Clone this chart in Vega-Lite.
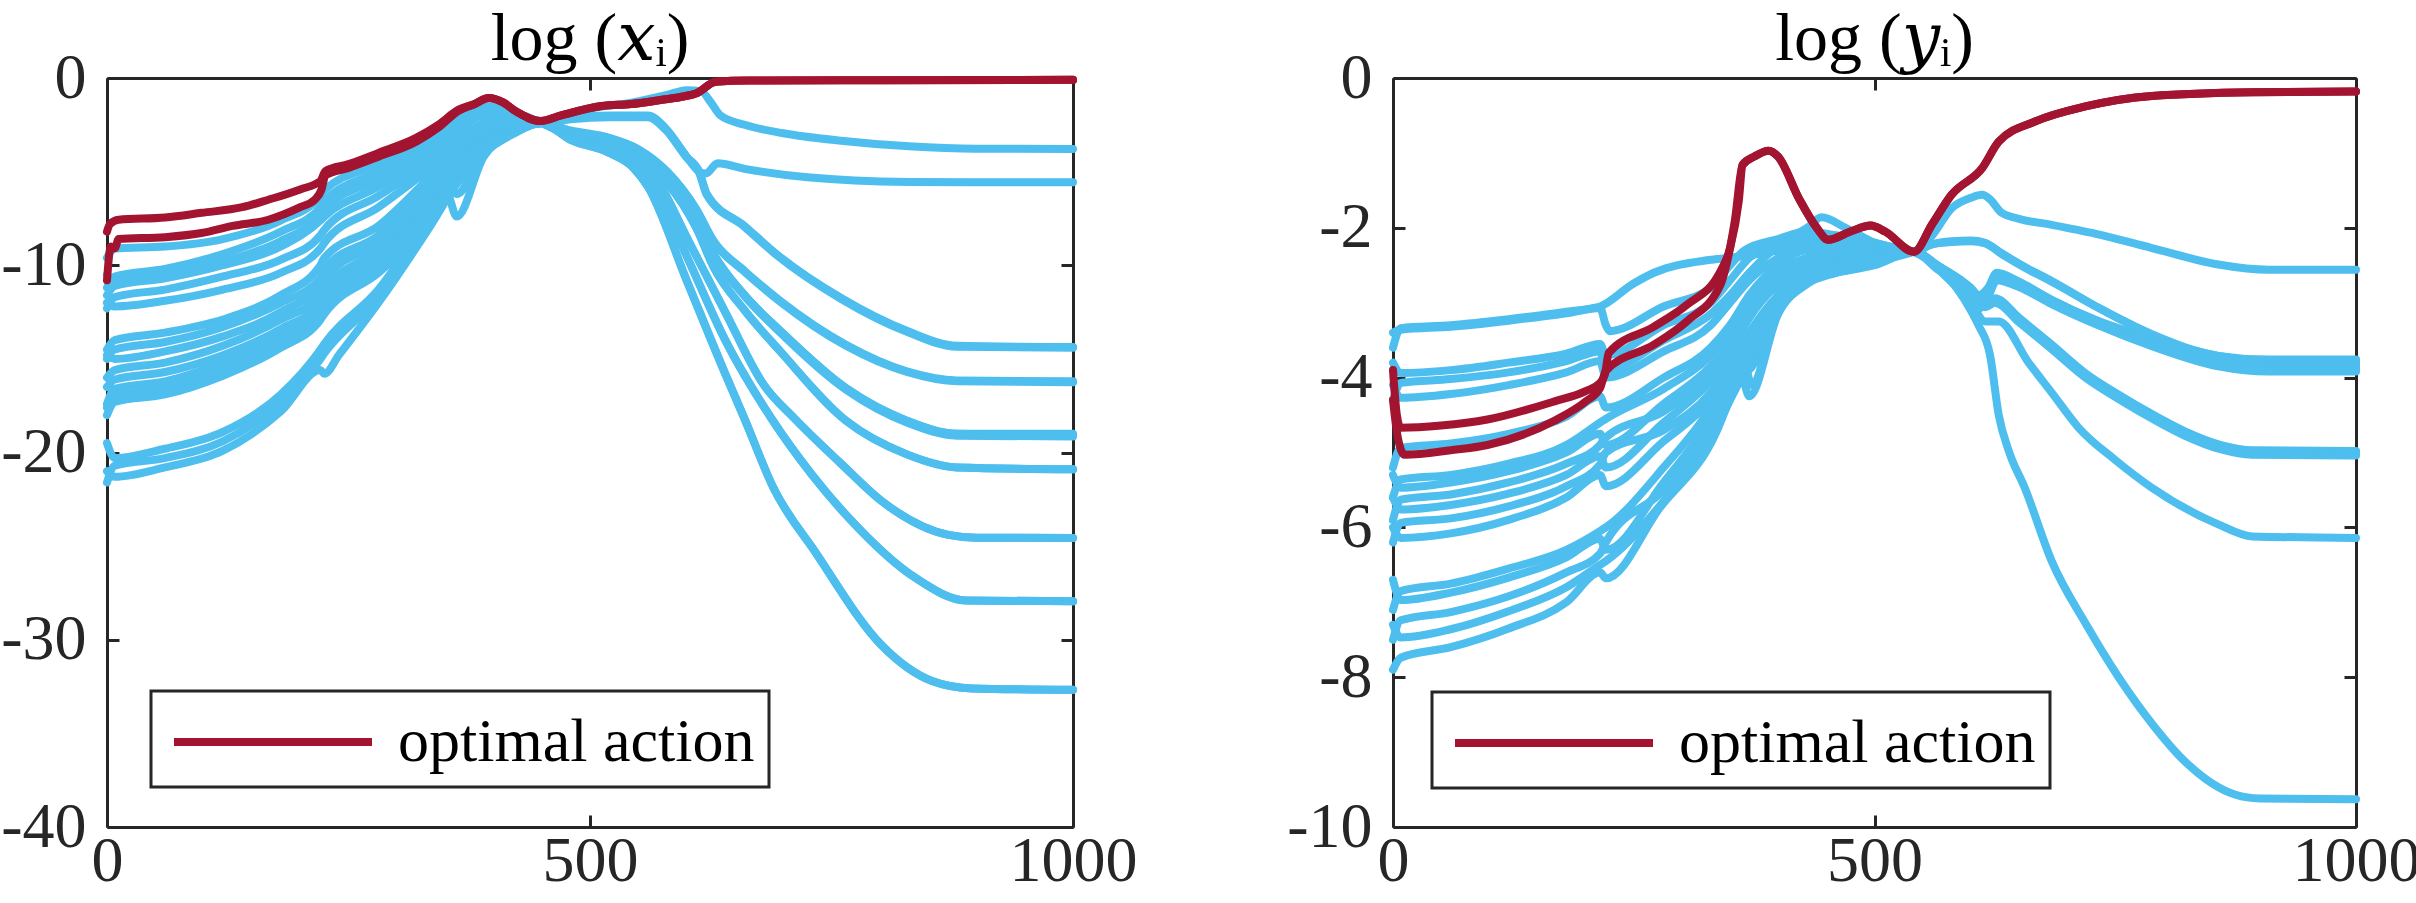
{
  "$schema": "https://vega.github.io/schema/vega-lite/v6.json",
  "background": "white",
  "padding": {"left": 0, "top": 6, "right": 0, "bottom": 0},
  "config": {
    "font": "Liberation Serif",
    "view": {"stroke": null},
    "axis": {
      "grid": false,
      "domainColor": "#262626",
      "domainWidth": 3,
      "tickColor": "#262626",
      "tickWidth": 3,
      "tickSize": -12,
      "labelFont": "Liberation Serif",
      "labelFontSize": 64,
      "labelColor": "#262626",
      "labelFlush": false,
      "labelOverlap": false,
      "labelBound": false
    },
    "legend": {"strokeWidth": 3},
    "line": {"strokeWidth": 8, "strokeCap": "round", "strokeJoin": "round", "interpolate": "monotone"}
  },
  "datasets": {
    "lb": [
      {"s":"l1","x":0,"y":-19.5},{"s":"l1","x":8,"y":-20.3},{"s":"l1","x":60,"y":-19.8},{"s":"l1","x":120,"y":-18.9},{"s":"l1","x":180,"y":-16.9},{"s":"l1","x":221,"y":-14.5},{"s":"l1","x":225,"y":-14.2},{"s":"l1","x":281,"y":-11.3},{"s":"l1","x":336,"y":-7.2},{"s":"l1","x":370,"y":-4.6},{"s":"l1","x":405,"y":-3.0},{"s":"l1","x":430,"y":-2.5},{"s":"l1","x":450,"y":-2.4},{"s":"l1","x":480,"y":-2.0},{"s":"l1","x":500,"y":-1.65},{"s":"l1","x":540,"y":-1.35},{"s":"l1","x":580,"y":-0.9},{"s":"l1","x":600,"y":-0.65},{"s":"l1","x":615,"y":-0.7},{"s":"l1","x":625,"y":-1.3},{"s":"l1","x":635,"y":-2.0},{"s":"l1","x":660,"y":-2.5},{"s":"l1","x":700,"y":-2.95},{"s":"l1","x":760,"y":-3.35},{"s":"l1","x":830,"y":-3.65},{"s":"l1","x":900,"y":-3.78},{"s":"l1","x":1000,"y":-3.79},
      {"s":"l2","x":0,"y":-21.6},{"s":"l2","x":8,"y":-20.7},{"s":"l2","x":60,"y":-20.3},{"s":"l2","x":120,"y":-19.4},{"s":"l2","x":180,"y":-17.3},{"s":"l2","x":221,"y":-15.0},{"s":"l2","x":225,"y":-14.7},{"s":"l2","x":281,"y":-11.7},{"s":"l2","x":336,"y":-7.5},{"s":"l2","x":370,"y":-4.8},{"s":"l2","x":405,"y":-3.0},{"s":"l2","x":430,"y":-2.5},{"s":"l2","x":450,"y":-2.4},{"s":"l2","x":480,"y":-2.1},{"s":"l2","x":520,"y":-2.0},{"s":"l2","x":560,"y":-2.0},{"s":"l2","x":578,"y":-2.67},{"s":"l2","x":600,"y":-4.2},{"s":"l2","x":613,"y":-5.0},{"s":"l2","x":620,"y":-5.1},{"s":"l2","x":632,"y":-4.55},{"s":"l2","x":660,"y":-4.85},{"s":"l2","x":725,"y":-5.3},{"s":"l2","x":830,"y":-5.55},{"s":"l2","x":900,"y":-5.57},{"s":"l2","x":1000,"y":-5.57},
      {"s":"l3","x":0,"y":-21.0},{"s":"l3","x":8,"y":-21.3},{"s":"l3","x":60,"y":-20.8},{"s":"l3","x":120,"y":-19.9},{"s":"l3","x":180,"y":-17.8},{"s":"l3","x":221,"y":-15.6},{"s":"l3","x":225,"y":-15.8},{"s":"l3","x":240,"y":-14.8},{"s":"l3","x":281,"y":-12.0},{"s":"l3","x":336,"y":-7.8},{"s":"l3","x":370,"y":-5.0},{"s":"l3","x":405,"y":-3.1},{"s":"l3","x":430,"y":-2.5},{"s":"l3","x":450,"y":-2.4},{"s":"l3","x":480,"y":-2.15},{"s":"l3","x":520,"y":-2.05},{"s":"l3","x":560,"y":-2.05},{"s":"l3","x":578,"y":-2.7},{"s":"l3","x":600,"y":-4.2},{"s":"l3","x":613,"y":-5.0},{"s":"l3","x":621,"y":-6.2},{"s":"l3","x":660,"y":-7.9},{"s":"l3","x":693,"y":-9.4},{"s":"l3","x":760,"y":-11.75},{"s":"l3","x":828,"y":-13.5},{"s":"l3","x":880,"y":-14.3},{"s":"l3","x":1000,"y":-14.37},
      {"s":"l4","x":0,"y":-14.5},{"s":"l4","x":8,"y":-14.0},{"s":"l4","x":60,"y":-13.6},{"s":"l4","x":120,"y":-12.9},{"s":"l4","x":180,"y":-11.6},{"s":"l4","x":221,"y":-10.0},{"s":"l4","x":225,"y":-9.6},{"s":"l4","x":281,"y":-7.9},{"s":"l4","x":336,"y":-5.2},{"s":"l4","x":352,"y":-4.4},{"s":"l4","x":362,"y":-5.0},{"s":"l4","x":390,"y":-3.4},{"s":"l4","x":420,"y":-2.6},{"s":"l4","x":450,"y":-2.4},{"s":"l4","x":480,"y":-2.2},{"s":"l4","x":520,"y":-2.1},{"s":"l4","x":560,"y":-2.1},{"s":"l4","x":578,"y":-2.75},{"s":"l4","x":600,"y":-4.25},{"s":"l4","x":613,"y":-5.05},{"s":"l4","x":621,"y":-6.25},{"s":"l4","x":660,"y":-7.95},{"s":"l4","x":693,"y":-9.45},{"s":"l4","x":760,"y":-11.8},{"s":"l4","x":828,"y":-13.55},{"s":"l4","x":880,"y":-14.35},{"s":"l4","x":1000,"y":-14.4},
      {"s":"l5","x":0,"y":-15.0},{"s":"l5","x":8,"y":-14.5},{"s":"l5","x":60,"y":-14.1},{"s":"l5","x":120,"y":-13.3},{"s":"l5","x":180,"y":-12.0},{"s":"l5","x":221,"y":-10.7},{"s":"l5","x":225,"y":-10.2},{"s":"l5","x":281,"y":-8.4},{"s":"l5","x":336,"y":-5.6},{"s":"l5","x":360,"y":-4.3},{"s":"l5","x":390,"y":-3.2},{"s":"l5","x":420,"y":-2.6},{"s":"l5","x":450,"y":-2.4},{"s":"l5","x":480,"y":-2.8},{"s":"l5","x":520,"y":-3.2},{"s":"l5","x":550,"y":-3.8},{"s":"l5","x":580,"y":-5.0},{"s":"l5","x":610,"y":-7.0},{"s":"l5","x":628,"y":-8.7},{"s":"l5","x":660,"y":-10.3},{"s":"l5","x":697,"y":-11.9},{"s":"l5","x":765,"y":-14.24},{"s":"l5","x":828,"y":-15.66},{"s":"l5","x":880,"y":-16.15},{"s":"l5","x":1000,"y":-16.2},
      {"s":"l6","x":0,"y":-14.8},{"s":"l6","x":8,"y":-15.0},{"s":"l6","x":60,"y":-14.6},{"s":"l6","x":120,"y":-13.8},{"s":"l6","x":180,"y":-12.5},{"s":"l6","x":221,"y":-11.0},{"s":"l6","x":225,"y":-10.7},{"s":"l6","x":281,"y":-8.8},{"s":"l6","x":336,"y":-6.0},{"s":"l6","x":360,"y":-4.6},{"s":"l6","x":390,"y":-3.4},{"s":"l6","x":420,"y":-2.7},{"s":"l6","x":450,"y":-2.4},{"s":"l6","x":480,"y":-2.85},{"s":"l6","x":520,"y":-3.25},{"s":"l6","x":550,"y":-3.85},{"s":"l6","x":580,"y":-5.05},{"s":"l6","x":610,"y":-7.05},{"s":"l6","x":628,"y":-8.75},{"s":"l6","x":660,"y":-10.35},{"s":"l6","x":697,"y":-11.95},{"s":"l6","x":765,"y":-14.3},{"s":"l6","x":828,"y":-15.7},{"s":"l6","x":880,"y":-16.2},{"s":"l6","x":1000,"y":-16.25},
      {"s":"l7","x":0,"y":-16.0},{"s":"l7","x":8,"y":-15.6},{"s":"l7","x":60,"y":-15.2},{"s":"l7","x":120,"y":-14.3},{"s":"l7","x":180,"y":-12.9},{"s":"l7","x":221,"y":-11.6},{"s":"l7","x":225,"y":-11.3},{"s":"l7","x":281,"y":-9.2},{"s":"l7","x":336,"y":-6.4},{"s":"l7","x":352,"y":-5.4},{"s":"l7","x":362,"y":-6.2},{"s":"l7","x":390,"y":-3.9},{"s":"l7","x":420,"y":-2.8},{"s":"l7","x":450,"y":-2.4},{"s":"l7","x":480,"y":-2.9},{"s":"l7","x":520,"y":-3.3},{"s":"l7","x":550,"y":-4.0},{"s":"l7","x":580,"y":-5.3},{"s":"l7","x":610,"y":-7.5},{"s":"l7","x":628,"y":-9.4},{"s":"l7","x":660,"y":-11.6},{"s":"l7","x":697,"y":-13.5},{"s":"l7","x":765,"y":-16.56},{"s":"l7","x":828,"y":-18.3},{"s":"l7","x":880,"y":-19.0},{"s":"l7","x":1000,"y":-19.0},
      {"s":"l8","x":0,"y":-16.5},{"s":"l8","x":8,"y":-16.1},{"s":"l8","x":60,"y":-15.7},{"s":"l8","x":120,"y":-14.8},{"s":"l8","x":180,"y":-13.4},{"s":"l8","x":221,"y":-12.0},{"s":"l8","x":225,"y":-11.7},{"s":"l8","x":281,"y":-9.5},{"s":"l8","x":336,"y":-6.8},{"s":"l8","x":360,"y":-5.0},{"s":"l8","x":390,"y":-3.6},{"s":"l8","x":420,"y":-2.8},{"s":"l8","x":450,"y":-2.4},{"s":"l8","x":480,"y":-2.95},{"s":"l8","x":520,"y":-3.35},{"s":"l8","x":550,"y":-4.05},{"s":"l8","x":580,"y":-5.35},{"s":"l8","x":610,"y":-7.55},{"s":"l8","x":628,"y":-9.45},{"s":"l8","x":660,"y":-11.65},{"s":"l8","x":697,"y":-13.6},{"s":"l8","x":765,"y":-16.65},{"s":"l8","x":828,"y":-18.4},{"s":"l8","x":880,"y":-19.1},{"s":"l8","x":1000,"y":-19.15},
      {"s":"l9","x":0,"y":-17.4},{"s":"l9","x":8,"y":-16.6},{"s":"l9","x":60,"y":-16.2},{"s":"l9","x":120,"y":-15.2},{"s":"l9","x":180,"y":-13.8},{"s":"l9","x":221,"y":-12.5},{"s":"l9","x":225,"y":-12.0},{"s":"l9","x":281,"y":-9.8},{"s":"l9","x":336,"y":-7.0},{"s":"l9","x":352,"y":-6.2},{"s":"l9","x":362,"y":-7.4},{"s":"l9","x":390,"y":-4.2},{"s":"l9","x":420,"y":-2.9},{"s":"l9","x":450,"y":-2.4},{"s":"l9","x":480,"y":-2.9},{"s":"l9","x":520,"y":-3.3},{"s":"l9","x":550,"y":-4.0},{"s":"l9","x":580,"y":-5.3},{"s":"l9","x":610,"y":-7.5},{"s":"l9","x":628,"y":-9.4},{"s":"l9","x":660,"y":-11.6},{"s":"l9","x":697,"y":-13.5},{"s":"l9","x":765,"y":-16.56},{"s":"l9","x":828,"y":-18.3},{"s":"l9","x":880,"y":-19.0},{"s":"l9","x":1000,"y":-19.07},
      {"s":"l10","x":0,"y":-17.6},{"s":"l10","x":8,"y":-17.0},{"s":"l10","x":60,"y":-16.6},{"s":"l10","x":120,"y":-15.6},{"s":"l10","x":180,"y":-14.1},{"s":"l10","x":221,"y":-12.7},{"s":"l10","x":225,"y":-12.3},{"s":"l10","x":281,"y":-10.1},{"s":"l10","x":336,"y":-7.3},{"s":"l10","x":360,"y":-5.6},{"s":"l10","x":390,"y":-3.8},{"s":"l10","x":420,"y":-2.9},{"s":"l10","x":450,"y":-2.4},{"s":"l10","x":480,"y":-3.0},{"s":"l10","x":520,"y":-3.5},{"s":"l10","x":550,"y":-4.2},{"s":"l10","x":580,"y":-5.6},{"s":"l10","x":610,"y":-8.0},{"s":"l10","x":628,"y":-10.1},{"s":"l10","x":660,"y":-12.4},{"s":"l10","x":697,"y":-14.6},{"s":"l10","x":765,"y":-18.3},{"s":"l10","x":828,"y":-20.1},{"s":"l10","x":880,"y":-20.8},{"s":"l10","x":1000,"y":-20.9},
      {"s":"l11","x":0,"y":-18.0},{"s":"l11","x":8,"y":-17.3},{"s":"l11","x":60,"y":-16.9},{"s":"l11","x":120,"y":-15.9},{"s":"l11","x":180,"y":-14.4},{"s":"l11","x":221,"y":-12.9},{"s":"l11","x":225,"y":-12.6},{"s":"l11","x":281,"y":-10.4},{"s":"l11","x":336,"y":-7.6},{"s":"l11","x":360,"y":-5.8},{"s":"l11","x":390,"y":-4.0},{"s":"l11","x":420,"y":-3.0},{"s":"l11","x":450,"y":-2.4},{"s":"l11","x":480,"y":-3.0},{"s":"l11","x":520,"y":-3.5},{"s":"l11","x":550,"y":-4.2},{"s":"l11","x":580,"y":-5.6},{"s":"l11","x":610,"y":-8.0},{"s":"l11","x":628,"y":-10.1},{"s":"l11","x":660,"y":-12.4},{"s":"l11","x":697,"y":-14.6},{"s":"l11","x":765,"y":-18.3},{"s":"l11","x":828,"y":-20.1},{"s":"l11","x":880,"y":-20.8},{"s":"l11","x":1000,"y":-20.9},
      {"s":"l12","x":0,"y":-9.6},{"s":"l12","x":8,"y":-9.1},{"s":"l12","x":60,"y":-9.0},{"s":"l12","x":120,"y":-8.6},{"s":"l12","x":180,"y":-7.6},{"s":"l12","x":221,"y":-6.3},{"s":"l12","x":225,"y":-6.0},{"s":"l12","x":281,"y":-4.6},{"s":"l12","x":336,"y":-3.1},{"s":"l12","x":360,"y":-2.3},{"s":"l12","x":390,"y":-1.5},{"s":"l12","x":420,"y":-1.8},{"s":"l12","x":450,"y":-2.4},{"s":"l12","x":480,"y":-3.1},{"s":"l12","x":520,"y":-3.6},{"s":"l12","x":550,"y":-4.4},{"s":"l12","x":570,"y":-5.5},{"s":"l12","x":600,"y":-8.5},{"s":"l12","x":640,"y":-12.5},{"s":"l12","x":680,"y":-16.4},{"s":"l12","x":712,"y":-18.2},{"s":"l12","x":760,"y":-20.6},{"s":"l12","x":802,"y":-22.6},{"s":"l12","x":871,"y":-24.4},{"s":"l12","x":900,"y":-24.55},{"s":"l12","x":1000,"y":-24.57},
      {"s":"l13","x":0,"y":-11.2},{"s":"l13","x":8,"y":-10.6},{"s":"l13","x":60,"y":-10.2},{"s":"l13","x":120,"y":-9.4},{"s":"l13","x":180,"y":-8.2},{"s":"l13","x":221,"y":-6.9},{"s":"l13","x":225,"y":-6.6},{"s":"l13","x":281,"y":-5.0},{"s":"l13","x":336,"y":-3.4},{"s":"l13","x":360,"y":-2.6},{"s":"l13","x":390,"y":-1.7},{"s":"l13","x":420,"y":-2.0},{"s":"l13","x":450,"y":-2.4},{"s":"l13","x":480,"y":-3.1},{"s":"l13","x":520,"y":-3.6},{"s":"l13","x":550,"y":-4.4},{"s":"l13","x":570,"y":-5.5},{"s":"l13","x":600,"y":-8.5},{"s":"l13","x":640,"y":-12.5},{"s":"l13","x":680,"y":-16.4},{"s":"l13","x":712,"y":-18.2},{"s":"l13","x":760,"y":-20.6},{"s":"l13","x":802,"y":-22.6},{"s":"l13","x":871,"y":-24.4},{"s":"l13","x":900,"y":-24.55},{"s":"l13","x":1000,"y":-24.57},
      {"s":"l14","x":0,"y":-10.5},{"s":"l14","x":8,"y":-10.9},{"s":"l14","x":60,"y":-10.5},{"s":"l14","x":120,"y":-9.8},{"s":"l14","x":180,"y":-8.7},{"s":"l14","x":221,"y":-7.3},{"s":"l14","x":225,"y":-7.0},{"s":"l14","x":281,"y":-5.4},{"s":"l14","x":336,"y":-3.7},{"s":"l14","x":360,"y":-2.9},{"s":"l14","x":390,"y":-2.0},{"s":"l14","x":420,"y":-2.1},{"s":"l14","x":450,"y":-2.4},{"s":"l14","x":480,"y":-3.2},{"s":"l14","x":520,"y":-3.8},{"s":"l14","x":550,"y":-4.6},{"s":"l14","x":565,"y":-5.6},{"s":"l14","x":600,"y":-9.5},{"s":"l14","x":640,"y":-14.0},{"s":"l14","x":688,"y":-18.2},{"s":"l14","x":730,"y":-21.2},{"s":"l14","x":768,"y":-23.5},{"s":"l14","x":837,"y":-26.7},{"s":"l14","x":889,"y":-27.9},{"s":"l14","x":1000,"y":-27.95},
      {"s":"l15","x":0,"y":-11.6},{"s":"l15","x":8,"y":-11.1},{"s":"l15","x":60,"y":-10.7},{"s":"l15","x":120,"y":-10.0},{"s":"l15","x":180,"y":-9.0},{"s":"l15","x":221,"y":-7.6},{"s":"l15","x":225,"y":-7.4},{"s":"l15","x":281,"y":-5.8},{"s":"l15","x":336,"y":-4.0},{"s":"l15","x":352,"y":-3.4},{"s":"l15","x":360,"y":-3.3},{"s":"l15","x":390,"y":-2.4},{"s":"l15","x":420,"y":-2.2},{"s":"l15","x":450,"y":-2.4},{"s":"l15","x":480,"y":-3.2},{"s":"l15","x":520,"y":-3.8},{"s":"l15","x":550,"y":-4.6},{"s":"l15","x":565,"y":-5.6},{"s":"l15","x":600,"y":-9.5},{"s":"l15","x":640,"y":-14.0},{"s":"l15","x":688,"y":-18.2},{"s":"l15","x":730,"y":-21.2},{"s":"l15","x":768,"y":-23.5},{"s":"l15","x":837,"y":-26.7},{"s":"l15","x":889,"y":-27.9},{"s":"l15","x":1000,"y":-27.95},
      {"s":"l16","x":0,"y":-12.3},{"s":"l16","x":8,"y":-11.7},{"s":"l16","x":60,"y":-11.3},{"s":"l16","x":120,"y":-10.6},{"s":"l16","x":180,"y":-9.7},{"s":"l16","x":221,"y":-8.4},{"s":"l16","x":225,"y":-8.1},{"s":"l16","x":281,"y":-6.3},{"s":"l16","x":336,"y":-4.4},{"s":"l16","x":360,"y":-3.5},{"s":"l16","x":390,"y":-2.6},{"s":"l16","x":420,"y":-2.3},{"s":"l16","x":450,"y":-2.4},{"s":"l16","x":480,"y":-3.3},{"s":"l16","x":520,"y":-4.0},{"s":"l16","x":545,"y":-4.8},{"s":"l16","x":560,"y":-5.8},{"s":"l16","x":600,"y":-10.8},{"s":"l16","x":640,"y":-15.8},{"s":"l16","x":660,"y":-18.2},{"s":"l16","x":690,"y":-21.9},{"s":"l16","x":733,"y":-25.3},{"s":"l16","x":802,"y":-30.3},{"s":"l16","x":854,"y":-32.2},{"s":"l16","x":896,"y":-32.6},{"s":"l16","x":1000,"y":-32.67},
      {"s":"l17","x":0,"y":-12.0},{"s":"l17","x":8,"y":-12.2},{"s":"l17","x":60,"y":-11.9},{"s":"l17","x":120,"y":-11.3},{"s":"l17","x":180,"y":-10.4},{"s":"l17","x":221,"y":-9.1},{"s":"l17","x":225,"y":-8.8},{"s":"l17","x":281,"y":-6.9},{"s":"l17","x":336,"y":-4.8},{"s":"l17","x":360,"y":-3.9},{"s":"l17","x":390,"y":-2.8},{"s":"l17","x":420,"y":-2.4},{"s":"l17","x":450,"y":-2.4},{"s":"l17","x":480,"y":-3.3},{"s":"l17","x":520,"y":-4.0},{"s":"l17","x":545,"y":-4.8},{"s":"l17","x":560,"y":-5.8},{"s":"l17","x":600,"y":-10.8},{"s":"l17","x":640,"y":-15.8},{"s":"l17","x":660,"y":-18.2},{"s":"l17","x":690,"y":-21.9},{"s":"l17","x":733,"y":-25.3},{"s":"l17","x":802,"y":-30.3},{"s":"l17","x":854,"y":-32.2},{"s":"l17","x":896,"y":-32.6},{"s":"l17","x":1000,"y":-32.67}
    ],
    "lr": [
      {"s":"r1","k":"optimal action","x":0,"y":-8.2},{"s":"r1","k":"optimal action","x":3,"y":-7.8},{"s":"r1","k":"optimal action","x":12,"y":-7.57},{"s":"r1","k":"optimal action","x":60,"y":-7.45},{"s":"r1","k":"optimal action","x":98,"y":-7.2},{"s":"r1","k":"optimal action","x":140,"y":-6.9},{"s":"r1","k":"optimal action","x":167,"y":-6.5},{"s":"r1","k":"optimal action","x":200,"y":-5.95},{"s":"r1","k":"optimal action","x":221,"y":-5.5},{"s":"r1","k":"optimal action","x":226,"y":-4.97},{"s":"r1","k":"optimal action","x":250,"y":-4.6},{"s":"r1","k":"optimal action","x":281,"y":-4.0},{"s":"r1","k":"optimal action","x":320,"y":-3.2},{"s":"r1","k":"optimal action","x":343,"y":-2.5},{"s":"r1","k":"optimal action","x":364,"y":-1.69},{"s":"r1","k":"optimal action","x":380,"y":-1.4},{"s":"r1","k":"optimal action","x":395,"y":-1.07},{"s":"r1","k":"optimal action","x":410,"y":-1.3},{"s":"r1","k":"optimal action","x":423,"y":-1.77},{"s":"r1","k":"optimal action","x":449,"y":-2.3},{"s":"r1","k":"optimal action","x":470,"y":-2.0},{"s":"r1","k":"optimal action","x":512,"y":-1.5},{"s":"r1","k":"optimal action","x":543,"y":-1.39},{"s":"r1","k":"optimal action","x":570,"y":-1.2},{"s":"r1","k":"optimal action","x":595,"y":-1.0},{"s":"r1","k":"optimal action","x":611,"y":-0.8},{"s":"r1","k":"optimal action","x":630,"y":-0.2},{"s":"r1","k":"optimal action","x":664,"y":-0.14},{"s":"r1","k":"optimal action","x":800,"y":-0.12},{"s":"r1","k":"optimal action","x":1000,"y":-0.1},
      {"s":"r2","k":"optimal action","x":0,"y":-10.8},{"s":"r2","k":"optimal action","x":4,"y":-9.0},{"s":"r2","k":"optimal action","x":8,"y":-9.1},{"s":"r2","k":"optimal action","x":12,"y":-8.6},{"s":"r2","k":"optimal action","x":60,"y":-8.5},{"s":"r2","k":"optimal action","x":98,"y":-8.28},{"s":"r2","k":"optimal action","x":130,"y":-7.9},{"s":"r2","k":"optimal action","x":167,"y":-7.57},{"s":"r2","k":"optimal action","x":200,"y":-6.9},{"s":"r2","k":"optimal action","x":215,"y":-6.5},{"s":"r2","k":"optimal action","x":222,"y":-5.96},{"s":"r2","k":"optimal action","x":226,"y":-5.2},{"s":"r2","k":"optimal action","x":250,"y":-4.8},{"s":"r2","k":"optimal action","x":281,"y":-4.2},{"s":"r2","k":"optimal action","x":320,"y":-3.4},{"s":"r2","k":"optimal action","x":343,"y":-2.65},{"s":"r2","k":"optimal action","x":364,"y":-1.75},{"s":"r2","k":"optimal action","x":380,"y":-1.4},{"s":"r2","k":"optimal action","x":395,"y":-1.07},{"s":"r2","k":"optimal action","x":410,"y":-1.3},{"s":"r2","k":"optimal action","x":423,"y":-1.77},{"s":"r2","k":"optimal action","x":449,"y":-2.3},{"s":"r2","k":"optimal action","x":470,"y":-2.0},{"s":"r2","k":"optimal action","x":512,"y":-1.5},{"s":"r2","k":"optimal action","x":543,"y":-1.39},{"s":"r2","k":"optimal action","x":570,"y":-1.2},{"s":"r2","k":"optimal action","x":595,"y":-1.0},{"s":"r2","k":"optimal action","x":611,"y":-0.8},{"s":"r2","k":"optimal action","x":630,"y":-0.2},{"s":"r2","k":"optimal action","x":664,"y":-0.14},{"s":"r2","k":"optimal action","x":800,"y":-0.12},{"s":"r2","k":"optimal action","x":1000,"y":-0.1}
    ],
    "rb": [
      {"s":"b1","x":0,"y":-3.6},{"s":"b1","x":8,"y":-3.34},{"s":"b1","x":60,"y":-3.3},{"s":"b1","x":120,"y":-3.22},{"s":"b1","x":180,"y":-3.12},{"s":"b1","x":215,"y":-3.05},{"s":"b1","x":249,"y":-2.75},{"s":"b1","x":271,"y":-2.6},{"s":"b1","x":328,"y":-2.43},{"s":"b1","x":350,"y":-2.4},{"s":"b1","x":400,"y":-2.3},{"s":"b1","x":430,"y":-2.2},{"s":"b1","x":460,"y":-2.15},{"s":"b1","x":500,"y":-2.25},{"s":"b1","x":541,"y":-2.32},{"s":"b1","x":560,"y":-2.1},{"s":"b1","x":580,"y":-1.74},{"s":"b1","x":600,"y":-1.6},{"s":"b1","x":612,"y":-1.56},{"s":"b1","x":620,"y":-1.62},{"s":"b1","x":632,"y":-1.8},{"s":"b1","x":650,"y":-1.88},{"s":"b1","x":684,"y":-1.96},{"s":"b1","x":730,"y":-2.08},{"s":"b1","x":788,"y":-2.27},{"s":"b1","x":857,"y":-2.49},{"s":"b1","x":909,"y":-2.56},{"s":"b1","x":1000,"y":-2.56},
      {"s":"b2","x":0,"y":-3.4},{"s":"b2","x":8,"y":-3.36},{"s":"b2","x":60,"y":-3.32},{"s":"b2","x":120,"y":-3.24},{"s":"b2","x":180,"y":-3.14},{"s":"b2","x":215,"y":-3.07},{"s":"b2","x":221,"y":-3.3},{"s":"b2","x":225,"y":-3.38},{"s":"b2","x":281,"y":-3.05},{"s":"b2","x":330,"y":-2.8},{"s":"b2","x":350,"y":-2.5},{"s":"b2","x":365,"y":-2.3},{"s":"b2","x":400,"y":-2.15},{"s":"b2","x":430,"y":-2.05},{"s":"b2","x":460,"y":-2.1},{"s":"b2","x":500,"y":-2.2},{"s":"b2","x":541,"y":-2.32},{"s":"b2","x":560,"y":-2.22},{"s":"b2","x":580,"y":-2.18},{"s":"b2","x":600,"y":-2.17},{"s":"b2","x":615,"y":-2.2},{"s":"b2","x":632,"y":-2.34},{"s":"b2","x":660,"y":-2.55},{"s":"b2","x":684,"y":-2.71},{"s":"b2","x":730,"y":-3.05},{"s":"b2","x":788,"y":-3.43},{"s":"b2","x":857,"y":-3.74},{"s":"b2","x":909,"y":-3.8},{"s":"b2","x":1000,"y":-3.8},
      {"s":"b3","x":0,"y":-3.8},{"s":"b3","x":8,"y":-3.94},{"s":"b3","x":60,"y":-3.9},{"s":"b3","x":120,"y":-3.8},{"s":"b3","x":180,"y":-3.68},{"s":"b3","x":215,"y":-3.55},{"s":"b3","x":221,"y":-3.7},{"s":"b3","x":281,"y":-3.3},{"s":"b3","x":330,"y":-3.0},{"s":"b3","x":350,"y":-2.7},{"s":"b3","x":370,"y":-2.4},{"s":"b3","x":400,"y":-2.2},{"s":"b3","x":430,"y":-2.0},{"s":"b3","x":445,"y":-1.86},{"s":"b3","x":470,"y":-2.0},{"s":"b3","x":500,"y":-2.2},{"s":"b3","x":541,"y":-2.32},{"s":"b3","x":565,"y":-2.5},{"s":"b3","x":590,"y":-2.7},{"s":"b3","x":608,"y":-2.9},{"s":"b3","x":618,"y":-2.8},{"s":"b3","x":627,"y":-2.6},{"s":"b3","x":650,"y":-2.72},{"s":"b3","x":684,"y":-2.96},{"s":"b3","x":730,"y":-3.23},{"s":"b3","x":788,"y":-3.48},{"s":"b3","x":857,"y":-3.71},{"s":"b3","x":909,"y":-3.78},{"s":"b3","x":1000,"y":-3.78},
      {"s":"b4","x":0,"y":-4.3},{"s":"b4","x":8,"y":-4.07},{"s":"b4","x":60,"y":-4.02},{"s":"b4","x":120,"y":-3.93},{"s":"b4","x":180,"y":-3.78},{"s":"b4","x":215,"y":-3.65},{"s":"b4","x":221,"y":-3.9},{"s":"b4","x":281,"y":-3.5},{"s":"b4","x":330,"y":-3.15},{"s":"b4","x":350,"y":-2.9},{"s":"b4","x":370,"y":-2.6},{"s":"b4","x":400,"y":-2.25},{"s":"b4","x":430,"y":-2.1},{"s":"b4","x":460,"y":-2.15},{"s":"b4","x":500,"y":-2.25},{"s":"b4","x":541,"y":-2.32},{"s":"b4","x":565,"y":-2.5},{"s":"b4","x":590,"y":-2.72},{"s":"b4","x":608,"y":-2.95},{"s":"b4","x":618,"y":-2.85},{"s":"b4","x":627,"y":-2.63},{"s":"b4","x":650,"y":-2.75},{"s":"b4","x":684,"y":-2.98},{"s":"b4","x":730,"y":-3.25},{"s":"b4","x":788,"y":-3.51},{"s":"b4","x":857,"y":-3.75},{"s":"b4","x":909,"y":-3.82},{"s":"b4","x":1000,"y":-3.82},
      {"s":"b5","x":0,"y":-4.1},{"s":"b5","x":8,"y":-4.27},{"s":"b5","x":60,"y":-4.22},{"s":"b5","x":120,"y":-4.1},{"s":"b5","x":180,"y":-3.93},{"s":"b5","x":215,"y":-3.78},{"s":"b5","x":221,"y":-4.0},{"s":"b5","x":281,"y":-3.65},{"s":"b5","x":330,"y":-3.3},{"s":"b5","x":350,"y":-3.0},{"s":"b5","x":370,"y":-2.7},{"s":"b5","x":400,"y":-2.4},{"s":"b5","x":430,"y":-2.2},{"s":"b5","x":460,"y":-2.25},{"s":"b5","x":500,"y":-2.3},{"s":"b5","x":541,"y":-2.32},{"s":"b5","x":570,"y":-2.55},{"s":"b5","x":600,"y":-2.8},{"s":"b5","x":615,"y":-3.0},{"s":"b5","x":625,"y":-2.94},{"s":"b5","x":650,"y":-3.2},{"s":"b5","x":684,"y":-3.56},{"s":"b5","x":720,"y":-3.95},{"s":"b5","x":754,"y":-4.23},{"s":"b5","x":790,"y":-4.5},{"s":"b5","x":823,"y":-4.72},{"s":"b5","x":860,"y":-4.9},{"s":"b5","x":892,"y":-4.97},{"s":"b5","x":1000,"y":-4.98},
      {"s":"b6","x":0,"y":-5.2},{"s":"b6","x":8,"y":-4.94},{"s":"b6","x":60,"y":-4.88},{"s":"b6","x":120,"y":-4.75},{"s":"b6","x":180,"y":-4.52},{"s":"b6","x":215,"y":-4.25},{"s":"b6","x":221,"y":-4.4},{"s":"b6","x":281,"y":-4.0},{"s":"b6","x":330,"y":-3.6},{"s":"b6","x":350,"y":-3.3},{"s":"b6","x":370,"y":-2.9},{"s":"b6","x":400,"y":-2.5},{"s":"b6","x":430,"y":-2.3},{"s":"b6","x":460,"y":-2.3},{"s":"b6","x":500,"y":-2.32},{"s":"b6","x":541,"y":-2.32},{"s":"b6","x":565,"y":-2.52},{"s":"b6","x":590,"y":-2.74},{"s":"b6","x":608,"y":-3.0},{"s":"b6","x":618,"y":-2.88},{"s":"b6","x":627,"y":-2.66},{"s":"b6","x":650,"y":-2.77},{"s":"b6","x":684,"y":-3.0},{"s":"b6","x":730,"y":-3.27},{"s":"b6","x":788,"y":-3.54},{"s":"b6","x":857,"y":-3.79},{"s":"b6","x":909,"y":-3.86},{"s":"b6","x":1000,"y":-3.86},
      {"s":"b7","x":0,"y":-5.6},{"s":"b7","x":8,"y":-5.36},{"s":"b7","x":60,"y":-5.3},{"s":"b7","x":120,"y":-5.15},{"s":"b7","x":180,"y":-4.9},{"s":"b7","x":215,"y":-4.6},{"s":"b7","x":221,"y":-4.55},{"s":"b7","x":281,"y":-4.15},{"s":"b7","x":330,"y":-3.7},{"s":"b7","x":350,"y":-3.4},{"s":"b7","x":370,"y":-3.0},{"s":"b7","x":400,"y":-2.6},{"s":"b7","x":430,"y":-2.4},{"s":"b7","x":460,"y":-2.35},{"s":"b7","x":500,"y":-2.35},{"s":"b7","x":541,"y":-2.32},{"s":"b7","x":565,"y":-2.54},{"s":"b7","x":590,"y":-2.76},{"s":"b7","x":608,"y":-3.05},{"s":"b7","x":618,"y":-2.9},{"s":"b7","x":627,"y":-2.68},{"s":"b7","x":650,"y":-2.78},{"s":"b7","x":684,"y":-3.01},{"s":"b7","x":730,"y":-3.28},{"s":"b7","x":788,"y":-3.57},{"s":"b7","x":857,"y":-3.83},{"s":"b7","x":909,"y":-3.9},{"s":"b7","x":1000,"y":-3.9},
      {"s":"b8","x":0,"y":-5.3},{"s":"b8","x":8,"y":-5.47},{"s":"b8","x":60,"y":-5.4},{"s":"b8","x":120,"y":-5.25},{"s":"b8","x":180,"y":-5.0},{"s":"b8","x":215,"y":-4.75},{"s":"b8","x":221,"y":-4.9},{"s":"b8","x":281,"y":-4.35},{"s":"b8","x":330,"y":-3.85},{"s":"b8","x":350,"y":-3.55},{"s":"b8","x":370,"y":-3.1},{"s":"b8","x":400,"y":-2.7},{"s":"b8","x":430,"y":-2.45},{"s":"b8","x":460,"y":-2.4},{"s":"b8","x":500,"y":-2.38},{"s":"b8","x":541,"y":-2.32},{"s":"b8","x":570,"y":-2.56},{"s":"b8","x":600,"y":-2.82},{"s":"b8","x":615,"y":-3.02},{"s":"b8","x":625,"y":-2.96},{"s":"b8","x":650,"y":-3.22},{"s":"b8","x":684,"y":-3.58},{"s":"b8","x":720,"y":-3.97},{"s":"b8","x":754,"y":-4.25},{"s":"b8","x":790,"y":-4.52},{"s":"b8","x":823,"y":-4.74},{"s":"b8","x":860,"y":-4.92},{"s":"b8","x":892,"y":-4.99},{"s":"b8","x":1000,"y":-5.0},
      {"s":"b9","x":0,"y":-5.9},{"s":"b9","x":8,"y":-5.63},{"s":"b9","x":60,"y":-5.56},{"s":"b9","x":120,"y":-5.4},{"s":"b9","x":180,"y":-5.15},{"s":"b9","x":215,"y":-4.9},{"s":"b9","x":221,"y":-4.8},{"s":"b9","x":281,"y":-4.45},{"s":"b9","x":330,"y":-3.95},{"s":"b9","x":350,"y":-3.65},{"s":"b9","x":370,"y":-3.2},{"s":"b9","x":400,"y":-2.75},{"s":"b9","x":430,"y":-2.5},{"s":"b9","x":460,"y":-2.45},{"s":"b9","x":500,"y":-2.4},{"s":"b9","x":541,"y":-2.32},{"s":"b9","x":565,"y":-2.5},{"s":"b9","x":590,"y":-2.71},{"s":"b9","x":608,"y":-2.92},{"s":"b9","x":618,"y":-2.82},{"s":"b9","x":627,"y":-2.62},{"s":"b9","x":650,"y":-2.73},{"s":"b9","x":684,"y":-2.97},{"s":"b9","x":730,"y":-3.24},{"s":"b9","x":788,"y":-3.5},{"s":"b9","x":857,"y":-3.73},{"s":"b9","x":909,"y":-3.8},{"s":"b9","x":1000,"y":-3.8},
      {"s":"b10","x":0,"y":-5.6},{"s":"b10","x":8,"y":-5.76},{"s":"b10","x":60,"y":-5.7},{"s":"b10","x":120,"y":-5.55},{"s":"b10","x":180,"y":-5.3},{"s":"b10","x":215,"y":-5.05},{"s":"b10","x":221,"y":-5.2},{"s":"b10","x":281,"y":-4.6},{"s":"b10","x":330,"y":-4.05},{"s":"b10","x":350,"y":-3.75},{"s":"b10","x":362,"y":-3.6},{"s":"b10","x":368,"y":-3.9},{"s":"b10","x":400,"y":-3.0},{"s":"b10","x":430,"y":-2.6},{"s":"b10","x":460,"y":-2.5},{"s":"b10","x":500,"y":-2.45},{"s":"b10","x":541,"y":-2.32},{"s":"b10","x":570,"y":-2.6},{"s":"b10","x":600,"y":-3.0},{"s":"b10","x":615,"y":-3.25},{"s":"b10","x":629,"y":-3.25},{"s":"b10","x":660,"y":-3.8},{"s":"b10","x":684,"y":-4.2},{"s":"b10","x":712,"y":-4.67},{"s":"b10","x":750,"y":-5.1},{"s":"b10","x":788,"y":-5.47},{"s":"b10","x":857,"y":-5.96},{"s":"b10","x":892,"y":-6.12},{"s":"b10","x":1000,"y":-6.14},
      {"s":"b11","x":0,"y":-6.2},{"s":"b11","x":8,"y":-5.94},{"s":"b11","x":60,"y":-5.88},{"s":"b11","x":120,"y":-5.72},{"s":"b11","x":180,"y":-5.45},{"s":"b11","x":215,"y":-5.16},{"s":"b11","x":221,"y":-5.0},{"s":"b11","x":281,"y":-4.7},{"s":"b11","x":330,"y":-4.2},{"s":"b11","x":350,"y":-3.85},{"s":"b11","x":370,"y":-3.4},{"s":"b11","x":400,"y":-2.9},{"s":"b11","x":430,"y":-2.6},{"s":"b11","x":460,"y":-2.55},{"s":"b11","x":500,"y":-2.45},{"s":"b11","x":541,"y":-2.32},{"s":"b11","x":565,"y":-2.51},{"s":"b11","x":590,"y":-2.73},{"s":"b11","x":608,"y":-2.98},{"s":"b11","x":618,"y":-2.86},{"s":"b11","x":627,"y":-2.64},{"s":"b11","x":650,"y":-2.76},{"s":"b11","x":684,"y":-2.99},{"s":"b11","x":730,"y":-3.26},{"s":"b11","x":788,"y":-3.52},{"s":"b11","x":857,"y":-3.77},{"s":"b11","x":909,"y":-3.84},{"s":"b11","x":1000,"y":-3.84},
      {"s":"b12","x":0,"y":-6.0},{"s":"b12","x":8,"y":-6.14},{"s":"b12","x":60,"y":-6.08},{"s":"b12","x":120,"y":-5.9},{"s":"b12","x":180,"y":-5.6},{"s":"b12","x":215,"y":-5.3},{"s":"b12","x":221,"y":-5.45},{"s":"b12","x":281,"y":-4.85},{"s":"b12","x":330,"y":-4.3},{"s":"b12","x":350,"y":-3.95},{"s":"b12","x":365,"y":-3.8},{"s":"b12","x":372,"y":-4.1},{"s":"b12","x":400,"y":-3.1},{"s":"b12","x":430,"y":-2.7},{"s":"b12","x":460,"y":-2.6},{"s":"b12","x":500,"y":-2.5},{"s":"b12","x":541,"y":-2.32},{"s":"b12","x":570,"y":-2.57},{"s":"b12","x":600,"y":-2.84},{"s":"b12","x":615,"y":-3.04},{"s":"b12","x":625,"y":-2.98},{"s":"b12","x":650,"y":-3.24},{"s":"b12","x":684,"y":-3.6},{"s":"b12","x":720,"y":-3.99},{"s":"b12","x":754,"y":-4.27},{"s":"b12","x":790,"y":-4.54},{"s":"b12","x":823,"y":-4.76},{"s":"b12","x":860,"y":-4.94},{"s":"b12","x":892,"y":-5.01},{"s":"b12","x":1000,"y":-5.02},
      {"s":"b13","x":0,"y":-7.1},{"s":"b13","x":8,"y":-6.85},{"s":"b13","x":60,"y":-6.75},{"s":"b13","x":120,"y":-6.55},{"s":"b13","x":180,"y":-6.3},{"s":"b13","x":215,"y":-6.05},{"s":"b13","x":221,"y":-6.0},{"s":"b13","x":281,"y":-5.2},{"s":"b13","x":330,"y":-4.4},{"s":"b13","x":350,"y":-3.95},{"s":"b13","x":370,"y":-3.5},{"s":"b13","x":400,"y":-2.9},{"s":"b13","x":430,"y":-2.6},{"s":"b13","x":460,"y":-2.5},{"s":"b13","x":500,"y":-2.4},{"s":"b13","x":541,"y":-2.32},{"s":"b13","x":560,"y":-2.45},{"s":"b13","x":585,"y":-2.8},{"s":"b13","x":600,"y":-3.1},{"s":"b13","x":608,"y":-3.3},{"s":"b13","x":620,"y":-3.7},{"s":"b13","x":629,"y":-4.5},{"s":"b13","x":640,"y":-5.0},{"s":"b13","x":656,"y":-5.47},{"s":"b13","x":684,"y":-6.45},{"s":"b13","x":720,"y":-7.3},{"s":"b13","x":754,"y":-8.01},{"s":"b13","x":790,"y":-8.65},{"s":"b13","x":822,"y":-9.12},{"s":"b13","x":875,"y":-9.57},{"s":"b13","x":900,"y":-9.62},{"s":"b13","x":1000,"y":-9.63},
      {"s":"b14","x":0,"y":-6.7},{"s":"b14","x":8,"y":-6.97},{"s":"b14","x":60,"y":-6.87},{"s":"b14","x":120,"y":-6.67},{"s":"b14","x":180,"y":-6.4},{"s":"b14","x":215,"y":-6.15},{"s":"b14","x":221,"y":-6.3},{"s":"b14","x":281,"y":-5.4},{"s":"b14","x":330,"y":-4.55},{"s":"b14","x":350,"y":-4.1},{"s":"b14","x":370,"y":-3.6},{"s":"b14","x":400,"y":-3.0},{"s":"b14","x":430,"y":-2.65},{"s":"b14","x":460,"y":-2.55},{"s":"b14","x":500,"y":-2.42},{"s":"b14","x":541,"y":-2.32},{"s":"b14","x":565,"y":-2.53},{"s":"b14","x":590,"y":-2.75},{"s":"b14","x":608,"y":-3.02},{"s":"b14","x":618,"y":-2.89},{"s":"b14","x":627,"y":-2.67},{"s":"b14","x":650,"y":-2.77},{"s":"b14","x":684,"y":-3.0},{"s":"b14","x":730,"y":-3.27},{"s":"b14","x":788,"y":-3.55},{"s":"b14","x":857,"y":-3.81},{"s":"b14","x":909,"y":-3.88},{"s":"b14","x":1000,"y":-3.88},
      {"s":"b15","x":0,"y":-7.5},{"s":"b15","x":8,"y":-7.24},{"s":"b15","x":60,"y":-7.13},{"s":"b15","x":120,"y":-6.92},{"s":"b15","x":180,"y":-6.6},{"s":"b15","x":215,"y":-6.35},{"s":"b15","x":221,"y":-6.2},{"s":"b15","x":281,"y":-5.5},{"s":"b15","x":330,"y":-4.65},{"s":"b15","x":350,"y":-4.2},{"s":"b15","x":362,"y":-4.0},{"s":"b15","x":370,"y":-4.25},{"s":"b15","x":400,"y":-3.15},{"s":"b15","x":430,"y":-2.75},{"s":"b15","x":460,"y":-2.6},{"s":"b15","x":500,"y":-2.45},{"s":"b15","x":541,"y":-2.32},{"s":"b15","x":560,"y":-2.22},{"s":"b15","x":580,"y":-2.19},{"s":"b15","x":600,"y":-2.18},{"s":"b15","x":615,"y":-2.21},{"s":"b15","x":632,"y":-2.35},{"s":"b15","x":660,"y":-2.56},{"s":"b15","x":684,"y":-2.72},{"s":"b15","x":730,"y":-3.05},{"s":"b15","x":788,"y":-3.42},{"s":"b15","x":857,"y":-3.71},{"s":"b15","x":909,"y":-3.76},{"s":"b15","x":1000,"y":-3.76},
      {"s":"b16","x":0,"y":-7.3},{"s":"b16","x":8,"y":-7.47},{"s":"b16","x":60,"y":-7.36},{"s":"b16","x":120,"y":-7.12},{"s":"b16","x":180,"y":-6.8},{"s":"b16","x":215,"y":-6.5},{"s":"b16","x":221,"y":-6.45},{"s":"b16","x":281,"y":-5.65},{"s":"b16","x":330,"y":-4.8},{"s":"b16","x":350,"y":-4.3},{"s":"b16","x":370,"y":-3.8},{"s":"b16","x":400,"y":-3.1},{"s":"b16","x":430,"y":-2.7},{"s":"b16","x":460,"y":-2.6},{"s":"b16","x":500,"y":-2.45},{"s":"b16","x":541,"y":-2.32},{"s":"b16","x":570,"y":-2.58},{"s":"b16","x":600,"y":-2.86},{"s":"b16","x":615,"y":-3.06},{"s":"b16","x":625,"y":-3.0},{"s":"b16","x":650,"y":-3.26},{"s":"b16","x":684,"y":-3.62},{"s":"b16","x":720,"y":-4.01},{"s":"b16","x":754,"y":-4.29},{"s":"b16","x":790,"y":-4.56},{"s":"b16","x":823,"y":-4.78},{"s":"b16","x":860,"y":-4.96},{"s":"b16","x":892,"y":-5.03},{"s":"b16","x":1000,"y":-5.04},
      {"s":"b17","x":0,"y":-7.9},{"s":"b17","x":8,"y":-7.74},{"s":"b17","x":60,"y":-7.6},{"s":"b17","x":120,"y":-7.35},{"s":"b17","x":180,"y":-7.0},{"s":"b17","x":215,"y":-6.6},{"s":"b17","x":221,"y":-6.68},{"s":"b17","x":277,"y":-5.74},{"s":"b17","x":336,"y":-4.72},{"s":"b17","x":353,"y":-4.18},{"s":"b17","x":370,"y":-3.7},{"s":"b17","x":409,"y":-2.76},{"s":"b17","x":440,"y":-2.55},{"s":"b17","x":470,"y":-2.5},{"s":"b17","x":500,"y":-2.42},{"s":"b17","x":541,"y":-2.32},{"s":"b17","x":565,"y":-2.55},{"s":"b17","x":590,"y":-2.78},{"s":"b17","x":608,"y":-3.08},{"s":"b17","x":618,"y":-2.92},{"s":"b17","x":627,"y":-2.7},{"s":"b17","x":650,"y":-2.79},{"s":"b17","x":684,"y":-3.02},{"s":"b17","x":730,"y":-3.29},{"s":"b17","x":788,"y":-3.58},{"s":"b17","x":857,"y":-3.85},{"s":"b17","x":909,"y":-3.92},{"s":"b17","x":1000,"y":-3.92}
    ],
    "rr": [
      {"s":"r1","k":"optimal action","x":0,"y":-3.9},{"s":"r1","k":"optimal action","x":4,"y":-4.5},{"s":"r1","k":"optimal action","x":8,"y":-4.67},{"s":"r1","k":"optimal action","x":50,"y":-4.64},{"s":"r1","k":"optimal action","x":98,"y":-4.56},{"s":"r1","k":"optimal action","x":167,"y":-4.32},{"s":"r1","k":"optimal action","x":200,"y":-4.18},{"s":"r1","k":"optimal action","x":215,"y":-4.07},{"s":"r1","k":"optimal action","x":220,"y":-3.96},{"s":"r1","k":"optimal action","x":224,"y":-3.67},{"s":"r1","k":"optimal action","x":271,"y":-3.32},{"s":"r1","k":"optimal action","x":305,"y":-3.03},{"s":"r1","k":"optimal action","x":340,"y":-2.58},{"s":"r1","k":"optimal action","x":350,"y":-2.27},{"s":"r1","k":"optimal action","x":359,"y":-1.65},{"s":"r1","k":"optimal action","x":363,"y":-1.16},{"s":"r1","k":"optimal action","x":375,"y":-1.05},{"s":"r1","k":"optimal action","x":390,"y":-0.97},{"s":"r1","k":"optimal action","x":400,"y":-1.05},{"s":"r1","k":"optimal action","x":422,"y":-1.62},{"s":"r1","k":"optimal action","x":440,"y":-2.0},{"s":"r1","k":"optimal action","x":452,"y":-2.16},{"s":"r1","k":"optimal action","x":475,"y":-2.05},{"s":"r1","k":"optimal action","x":496,"y":-1.97},{"s":"r1","k":"optimal action","x":511,"y":-2.05},{"s":"r1","k":"optimal action","x":541,"y":-2.32},{"s":"r1","k":"optimal action","x":560,"y":-1.95},{"s":"r1","k":"optimal action","x":580,"y":-1.56},{"s":"r1","k":"optimal action","x":612,"y":-1.2},{"s":"r1","k":"optimal action","x":629,"y":-0.85},{"s":"r1","k":"optimal action","x":667,"y":-0.58},{"s":"r1","k":"optimal action","x":719,"y":-0.38},{"s":"r1","k":"optimal action","x":788,"y":-0.24},{"s":"r1","k":"optimal action","x":892,"y":-0.19},{"s":"r1","k":"optimal action","x":1000,"y":-0.18},
      {"s":"r2","k":"optimal action","x":0,"y":-4.3},{"s":"r2","k":"optimal action","x":5,"y":-4.8},{"s":"r2","k":"optimal action","x":12,"y":-5.03},{"s":"r2","k":"optimal action","x":60,"y":-4.97},{"s":"r2","k":"optimal action","x":98,"y":-4.9},{"s":"r2","k":"optimal action","x":167,"y":-4.58},{"s":"r2","k":"optimal action","x":201,"y":-4.31},{"s":"r2","k":"optimal action","x":215,"y":-4.14},{"s":"r2","k":"optimal action","x":221,"y":-3.91},{"s":"r2","k":"optimal action","x":271,"y":-3.56},{"s":"r2","k":"optimal action","x":305,"y":-3.25},{"s":"r2","k":"optimal action","x":340,"y":-2.76},{"s":"r2","k":"optimal action","x":347,"y":-2.45},{"s":"r2","k":"optimal action","x":355,"y":-1.9},{"s":"r2","k":"optimal action","x":363,"y":-1.16},{"s":"r2","k":"optimal action","x":375,"y":-1.05},{"s":"r2","k":"optimal action","x":390,"y":-0.97},{"s":"r2","k":"optimal action","x":400,"y":-1.05},{"s":"r2","k":"optimal action","x":422,"y":-1.62},{"s":"r2","k":"optimal action","x":440,"y":-2.0},{"s":"r2","k":"optimal action","x":452,"y":-2.16},{"s":"r2","k":"optimal action","x":475,"y":-2.05},{"s":"r2","k":"optimal action","x":496,"y":-1.97},{"s":"r2","k":"optimal action","x":511,"y":-2.05},{"s":"r2","k":"optimal action","x":541,"y":-2.32},{"s":"r2","k":"optimal action","x":560,"y":-1.95},{"s":"r2","k":"optimal action","x":580,"y":-1.56},{"s":"r2","k":"optimal action","x":612,"y":-1.2},{"s":"r2","k":"optimal action","x":629,"y":-0.85},{"s":"r2","k":"optimal action","x":667,"y":-0.58},{"s":"r2","k":"optimal action","x":719,"y":-0.38},{"s":"r2","k":"optimal action","x":788,"y":-0.24},{"s":"r2","k":"optimal action","x":892,"y":-0.19},{"s":"r2","k":"optimal action","x":1000,"y":-0.18}
    ]
  },
  "spacing": 149,
  "hconcat": [
    {
      "width": 966,
      "height": 749,
      "title": {"text": "log (𝑥ᵢ)", "font": "Liberation Serif, DejaVu Serif", "fontSize": 68, "fontWeight": "normal", "color": "black", "offset": -28},
      "layer": [
        {
          "data": {"name": "lb"},
          "mark": {"type": "line", "color": "#4DBEEE"},
          "encoding": {
            "x": {"field": "x", "type": "quantitative", "title": null, "scale": {"domain": [0, 1000], "nice": false, "zero": false}, "axis": {"orient": "bottom", "values": [0, 500, 1000], "labelExpr": "'' + datum.value", "labelPadding": 14}},
            "y": {"field": "y", "type": "quantitative", "title": null, "scale": {"domain": [-40, 0], "nice": false, "zero": false}, "axis": {"orient": "left", "values": [-40, -30, -20, -10, 0], "labelExpr": "'' + datum.value", "labelPadding": 33}},
            "detail": {"field": "s"}
          }
        },
        {
          "data": {"name": "lr"},
          "mark": {"type": "line"},
          "encoding": {
            "x": {"field": "x", "type": "quantitative", "title": null, "axis": {"orient": "top", "values": [0, 500, 1000], "labels": false}},
            "y": {"field": "y", "type": "quantitative", "title": null, "axis": {"orient": "right", "values": [-40, -30, -20, -10, 0], "labels": false}},
            "detail": {"field": "s"},
            "color": {
              "field": "k", "type": "nominal",
              "scale": {"domain": ["optimal action"], "range": ["#A2142F"]},
              "legend": {"title": null, "orient": "none", "legendX": 44, "legendY": 613, "symbolType": "M-3,0H3", "symbolSize": 4356, "symbolStrokeWidth": 3, "symbolOffset": 71, "labelFont": "Liberation Serif", "labelFontSize": 62, "labelColor": "black", "labelOffset": 88, "labelLimit": 1000, "strokeColor": "#262626", "fillColor": "white", "padding": 14}
            }
          }
        }
      ],
      "resolve": {"axis": {"x": "independent", "y": "independent"}}
    },
    {
      "width": 963,
      "height": 749,
      "title": {"text": "log (𝑦ᵢ)", "font": "Liberation Serif, DejaVu Serif", "fontSize": 68, "fontWeight": "normal", "color": "black", "offset": -28},
      "layer": [
        {
          "data": {"name": "rb"},
          "mark": {"type": "line", "color": "#4DBEEE"},
          "encoding": {
            "x": {"field": "x", "type": "quantitative", "title": null, "scale": {"domain": [0, 1000], "nice": false, "zero": false}, "axis": {"orient": "bottom", "values": [0, 500, 1000], "labelExpr": "'' + datum.value", "labelPadding": 14}},
            "y": {"field": "y", "type": "quantitative", "title": null, "scale": {"domain": [-10, 0], "nice": false, "zero": false}, "axis": {"orient": "left", "values": [-10, -8, -6, -4, -2, 0], "labelExpr": "'' + datum.value", "labelPadding": 33}},
            "detail": {"field": "s"}
          }
        },
        {
          "data": {"name": "rr"},
          "mark": {"type": "line"},
          "encoding": {
            "x": {"field": "x", "type": "quantitative", "title": null, "axis": {"orient": "top", "values": [0, 500, 1000], "labels": false}},
            "y": {"field": "y", "type": "quantitative", "title": null, "axis": {"orient": "right", "values": [-10, -8, -6, -4, -2, 0], "labels": false}},
            "detail": {"field": "s"},
            "color": {
              "field": "k", "type": "nominal",
              "scale": {"domain": ["optimal action"], "range": ["#A2142F"]},
              "legend": {"title": null, "orient": "none", "legendX": 39, "legendY": 614, "symbolType": "M-3,0H3", "symbolSize": 4356, "symbolStrokeWidth": 3, "symbolOffset": 71, "labelFont": "Liberation Serif", "labelFontSize": 62, "labelColor": "black", "labelOffset": 88, "labelLimit": 1000, "strokeColor": "#262626", "fillColor": "white", "padding": 14}
            }
          }
        }
      ],
      "resolve": {"axis": {"x": "independent", "y": "independent"}}
    }
  ],
  "resolve": {"scale": {"color": "independent"}, "legend": {"color": "independent"}}
}
